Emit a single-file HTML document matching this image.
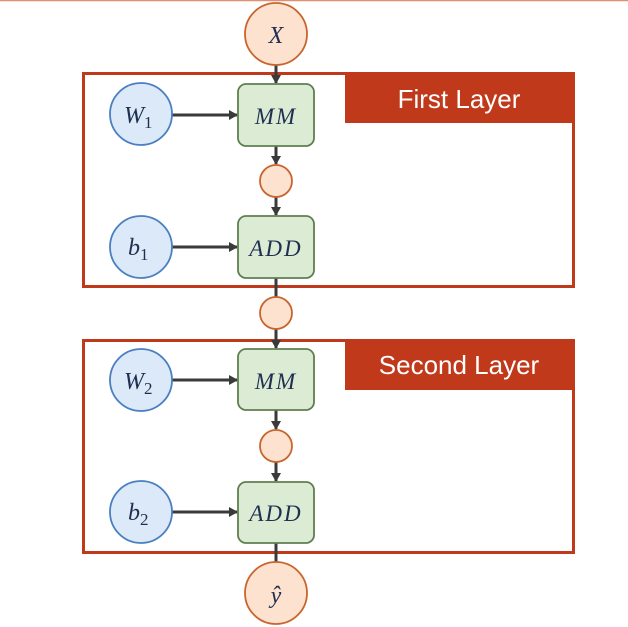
<!DOCTYPE html>
<html><head><meta charset="utf-8"><style>
html,body{margin:0;padding:0;background:#fff;}
svg{display:block}
.m{font-family:"Liberation Serif",serif;font-style:italic;fill:#1f2f4f;}
.t{font-family:"Liberation Sans",sans-serif;fill:#fff;}
</style></head><body>
<svg width="628" height="627" viewBox="0 0 628 627" xmlns="http://www.w3.org/2000/svg">
<defs>
<marker id="a" markerWidth="10" markerHeight="10" refX="8" refY="5" orient="auto" markerUnits="userSpaceOnUse">
<path d="M0,0 L9,5 L0,10 z" fill="#3a3a3a"/></marker>
</defs>
<line x1="0" y1="0.5" x2="628" y2="0.5" stroke="#e09070" stroke-width="1.5"/>
<rect x="83.5" y="73.5" width="490" height="213" fill="none" stroke="#c0391b" stroke-width="3"/>
<rect x="345" y="73" width="229" height="50" fill="#c0391b"/>
<text class="t" x="459" y="108" font-size="26" text-anchor="middle">First Layer</text>
<rect x="83.5" y="340.5" width="490" height="212" fill="none" stroke="#c0391b" stroke-width="3"/>
<rect x="345" y="340" width="229" height="50" fill="#c0391b"/>
<text class="t" x="459" y="374" font-size="26" text-anchor="middle">Second Layer</text>
<g stroke="#3a3a3a" stroke-width="3" fill="none">
<line x1="276" y1="65" x2="276" y2="83" marker-end="url(#a)"/>
<line x1="276" y1="146" x2="276" y2="164" marker-end="url(#a)"/>
<line x1="276" y1="197" x2="276" y2="215" marker-end="url(#a)"/>
<line x1="276" y1="278" x2="276" y2="297"/>
<line x1="276" y1="329" x2="276" y2="348" marker-end="url(#a)"/>
<line x1="276" y1="410" x2="276" y2="429" marker-end="url(#a)"/>
<line x1="276" y1="462" x2="276" y2="481" marker-end="url(#a)"/>
<line x1="276" y1="543" x2="276" y2="562"/>
<line x1="172" y1="115" x2="237" y2="115" marker-end="url(#a)"/>
<line x1="172" y1="247" x2="237" y2="247" marker-end="url(#a)"/>
<line x1="172" y1="380" x2="237" y2="380" marker-end="url(#a)"/>
<line x1="172" y1="512" x2="237" y2="512" marker-end="url(#a)"/>
</g>
<g fill="#fde2d0" stroke="#c8652d" stroke-width="1.8">
<circle cx="276" cy="34" r="31"/>
<circle cx="276" cy="181" r="16"/>
<circle cx="276" cy="313" r="16"/>
<circle cx="276" cy="446" r="16"/>
<circle cx="276" cy="593" r="31"/>
</g>
<g fill="#dce9f8" stroke="#4a7fc0" stroke-width="1.8">
<circle cx="141" cy="114" r="31"/>
<circle cx="141" cy="247" r="31"/>
<circle cx="141" cy="380" r="31"/>
<circle cx="141" cy="512" r="31"/>
</g>
<g fill="#dcebd4" stroke="#5e7f4f" stroke-width="1.8">
<rect x="238" y="84" width="76" height="62" rx="8"/>
<rect x="238" y="216" width="76" height="62" rx="8"/>
<rect x="238" y="349" width="76" height="61" rx="8"/>
<rect x="238" y="482" width="76" height="61" rx="8"/>
</g>
<text class="m" x="276" y="43" font-size="24" text-anchor="middle">X</text>
<text class="m" x="276" y="124" font-size="23" text-anchor="middle" letter-spacing="2">MM</text>
<text class="m" x="276" y="256" font-size="23" text-anchor="middle" letter-spacing="2">ADD</text>
<text class="m" x="276" y="389" font-size="23" text-anchor="middle" letter-spacing="2">MM</text>
<text class="m" x="276" y="521" font-size="23" text-anchor="middle" letter-spacing="2">ADD</text>
<text class="m" x="276" y="603" font-size="24" text-anchor="middle">ŷ</text>
<text class="m" x="124" y="123" font-size="24">W<tspan font-style="normal" font-size="17" dy="5">1</tspan></text>
<text class="m" x="128" y="255" font-size="24">b<tspan font-style="normal" font-size="17" dy="5">1</tspan></text>
<text class="m" x="124" y="389" font-size="24">W<tspan font-style="normal" font-size="17" dy="5">2</tspan></text>
<text class="m" x="128" y="520" font-size="24">b<tspan font-style="normal" font-size="17" dy="5">2</tspan></text>
</svg>
</body></html>
